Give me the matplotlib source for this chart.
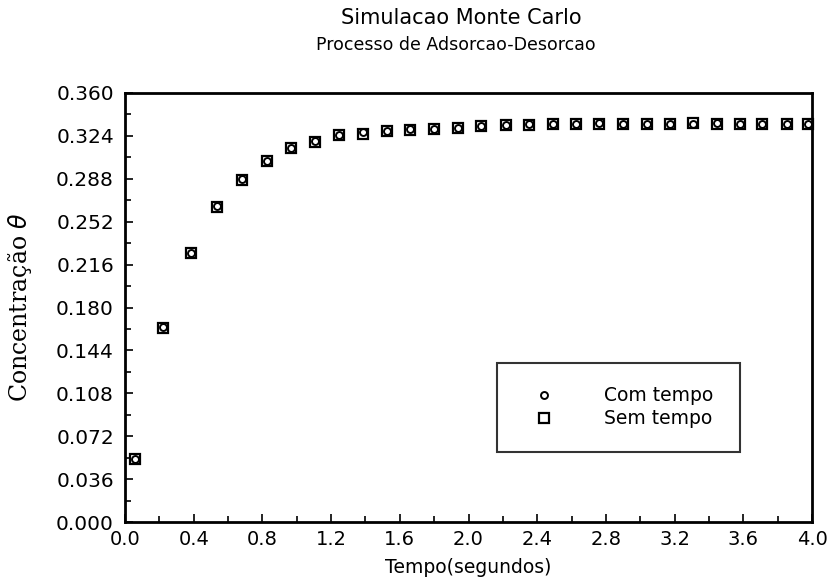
import matplotlib
matplotlib.use("Agg")
import matplotlib.pyplot as plt
from matplotlib.ticker import MultipleLocator, FormatStrFormatter

# Monte Carlo adsorption/desorption: coverage vs time
tempo = [0.058, 0.222, 0.385, 0.536, 0.682, 0.828, 0.968, 1.108, 1.248,
         1.388, 1.528, 1.662, 1.802, 1.936, 2.070, 2.216, 2.350, 2.490,
         2.624, 2.758, 2.898, 3.040, 3.174, 3.308, 3.448, 3.582, 3.710,
         3.856, 3.978]
sem_tempo = [0.053, 0.163, 0.226, 0.264, 0.287, 0.303, 0.314, 0.319, 0.325,
             0.326, 0.328, 0.329, 0.330, 0.331, 0.332, 0.333, 0.333, 0.334,
             0.334, 0.334, 0.334, 0.334, 0.334, 0.335, 0.334, 0.334, 0.334,
             0.334, 0.334]
com_tempo = [0.053, 0.164, 0.226, 0.265, 0.288, 0.303, 0.314, 0.320, 0.325,
             0.327, 0.328, 0.330, 0.330, 0.331, 0.332, 0.333, 0.334, 0.334,
             0.334, 0.335, 0.334, 0.334, 0.334, 0.334, 0.335, 0.334, 0.334,
             0.334, 0.334]

fig = plt.figure(figsize=(8.3, 5.78), dpi=100)
ax = fig.add_axes([125 / 830, 1 - 522 / 578, 687 / 830, 429 / 578])

ax.plot(tempo, com_tempo, linestyle="none", marker="o", markersize=5,
        markerfacecolor="none", markeredgecolor="black", markeredgewidth=1.4,
        label="Com tempo", clip_on=False)
ax.plot(tempo, sem_tempo, linestyle="none", marker="s", markersize=7.5,
        markerfacecolor="none", markeredgecolor="black", markeredgewidth=1.6,
        label="Sem tempo", clip_on=False)

ax.set_xlim(0, 4.0)
ax.set_ylim(0, 0.36)
ax.xaxis.set_major_locator(MultipleLocator(0.4))
ax.xaxis.set_minor_locator(MultipleLocator(0.2))
ax.yaxis.set_major_locator(MultipleLocator(0.036))
ax.yaxis.set_minor_locator(MultipleLocator(0.018))
ax.xaxis.set_major_formatter(FormatStrFormatter("%.1f"))
ax.yaxis.set_major_formatter(FormatStrFormatter("%.3f"))

for side in ax.spines.values():
    side.set_linewidth(2)
ax.tick_params(which="both", direction="in", top=False, right=False,
               width=1.2, labelsize=14.5)
ax.tick_params(axis="x", pad=6, labelsize=14)
ax.tick_params(axis="y", pad=8)
ax.tick_params(which="major", length=6)
ax.tick_params(which="minor", length=4)

ax.set_xlabel("Tempo(segundos)", fontsize=13.5)
ax.xaxis.set_label_coords(0.5, -0.083)
ax.set_ylabel("Concentração $\\theta$", fontsize=17,
              family="DejaVu Serif", labelpad=16)

fig.text(0.556, 0.968, "Simulacao Monte Carlo", ha="center", va="center",
         fontsize=15)
fig.text(0.549, 0.922, "Processo de Adsorcao-Desorcao", ha="center",
         va="center", fontsize=12.5)

leg = ax.legend(loc="lower left", bbox_to_anchor=(0.541, 0.164, 0.354, 0.214),
                mode="expand", borderaxespad=0, frameon=True, fancybox=False,
                fontsize=13.5, handletextpad=2.0, borderpad=1.25,
                labelspacing=0.2, handlelength=2.5)
leg.get_frame().set_edgecolor("black")
leg.get_frame().set_linewidth(1.5)

fig.savefig("out.png", dpi=100)
